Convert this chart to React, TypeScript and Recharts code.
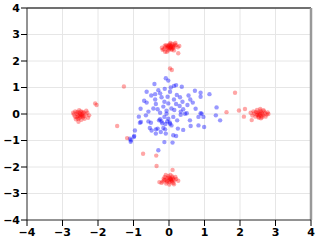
import {
    ScatterChart,
    Scatter,
    XAxis,
    YAxis,
    CartesianGrid,
    ReferenceLine
} from 'recharts';

const ticks = [-4, -3, -2, -1, 0, 1, 2, 3, 4];

// central blue cloud
const bluePoints: [number, number][] = [
    [-0.09, 1.35], [-0.02, 1.26], [-0.41, 1.13], [-0.3, 0.9], [-0.63, 0.84], [-0.39, 0.75],
    [-0.25, 0.78], [-0.04, 0.65], [-0.21, 0.63], [-0.39, 0.55], [-0.7, 0.5], [-0.63, 0.43],
    [-0.37, 0.38], [-0.13, 0.46], [-0.02, 0.4], [-0.44, 0.21], [-0.32, 0.18], [-0.16, 0.28],
    [-0.58, 0.09], [-0.07, 0.12], [0.2, 1.09], [0.14, 1.06], [0.36, 1.03], [0.03, 0.84],
    [0.73, 0.88], [0.89, 0.8], [1.14, 0.75], [0.89, 0.65], [0.22, 0.72], [0.31, 0.63],
    [0.14, 0.55], [0.38, 0.46], [0.67, 0.43], [0.2, 0.38], [0.52, 0.34], [0.07, 0.21],
    [0.4, 0.18], [0.33, 0.09], [0.5, 0.03], [0.89, 0.03], [1.34, 0.25], [-1.1, -0.93],
    [-1.07, -0.99], [-0.98, -0.83], [-0.96, -0.62], [-0.82, -0.33], [-0.79, -0.3], [-0.58, -0.28],
    [-0.51, -0.33], [-0.54, -0.53], [-0.49, -0.62], [-0.37, -0.74], [-0.28, -0.24], [-0.21, -0.28],
    [-0.13, -0.11], [-0.07, 0.01], [-0.02, -0.18], [-0.16, -0.53], [-0.11, -0.58], [-0.23, -0.68],
    [-0.09, -0.74], [-0.13, -1.06], [-0.3, -1.37], [0.12, -0.11], [0.33, -0.03], [0.45, 0.01],
    [0.23, -0.24], [0.59, -0.24], [0.83, -0.11], [0.92, 0.01], [0.97, -0.11], [1.32, -0.05],
    [1.44, -0.24], [0.61, -0.45], [0.83, -0.43], [0.99, -0.49], [0.07, -0.43], [0.12, -0.8],
    [0.2, -0.83], [0.1, -1.08], [-0.99, -0.87], [-1.08, -1.05], [-0.25, -0.2], [-0.19, -0.35],
    [-0.1, -0.38], [-0.05, -0.28], [0.02, -0.32], [-0.37, -0.58], [-0.32, -0.55], [0.03, -0.37],
    [-0.12, 0.95], [0.05, 1.0], [-0.5, 0.7], [0.55, 0.7], [0.6, 0.55], [-0.8, 0.2],
    [-0.85, -0.1], [0.75, 0.2], [0.25, -0.55], [0.4, -0.6], [-0.65, -0.05], [0.3, 0.3],
    [-0.25, 0.05], [0.15, 0.15]
];

// four red clusters plus strays
const redTop: [number, number][] = [
    [0.0, 2.55], [0.05, 2.5], [-0.05, 2.48], [0.1, 2.58], [-0.1, 2.52], [0.02, 2.62], [0.08, 2.45],
    [-0.02, 2.4], [0.15, 2.55], [-0.15, 2.45], [0.04, 2.68], [-0.08, 2.6], [0.12, 2.48], [0.2, 2.6],
    [-0.18, 2.42], [0.06, 2.53], [-0.04, 2.57], [0.01, 2.46], [0.09, 2.64], [-0.12, 2.58], [0.25, 2.52],
    [-0.06, 2.35], [0.14, 2.4], [0.03, 2.5], [0.29, 2.57], [0.26, 2.29], [-0.11, 2.35], [0.18, 2.68],
    [-0.2, 2.5], [0.07, 2.42], [0.0, 2.6], [0.11, 2.53], [-0.03, 2.52], [0.05, 2.58], [0.16, 2.62]
];
const redLeft: [number, number][] = [
    [-2.5, 0.0], [-2.45, -0.05], [-2.55, -0.08], [-2.4, 0.05], [-2.6, 0.02], [-2.52, -0.15], [-2.48, 0.1],
    [-2.35, -0.02], [-2.65, -0.1], [-2.42, -0.12], [-2.58, 0.08], [-2.3, 0.05], [-2.68, -0.02], [-2.53, 0.14],
    [-2.47, -0.22], [-2.38, -0.18], [-2.62, -0.2], [-2.25, -0.05], [-2.55, -0.29], [-2.44, 0.02], [-2.5, -0.1],
    [-2.57, -0.02], [-2.33, 0.12], [-2.7, 0.05], [-2.46, -0.08], [-2.52, 0.05], [-2.4, -0.08], [-2.6, -0.12],
    [-2.28, -0.14], [-2.64, 0.1], [-2.49, -0.03], [-2.43, 0.08], [-2.56, -0.18]
];
const redRight: [number, number][] = [
    [2.55, 0.0], [2.6, 0.05], [2.5, -0.03], [2.65, -0.05], [2.45, 0.08], [2.58, 0.12], [2.52, -0.1],
    [2.7, 0.03], [2.4, 0.02], [2.62, -0.12], [2.48, 0.15], [2.75, -0.02], [2.35, -0.06], [2.57, 0.19],
    [2.53, -0.14], [2.68, 0.1], [2.8, 0.0], [2.44, -0.1], [2.3, 0.05], [2.63, 0.0], [2.56, 0.06],
    [2.5, 0.05], [2.6, -0.07], [2.72, -0.1], [2.47, -0.02], [2.66, 0.14], [2.54, -0.05], [2.38, 0.1],
    [2.78, 0.06], [2.59, -0.16], [2.33, -0.23]
];
const redBottom: [number, number][] = [
    [0.0, -2.5], [0.05, -2.45], [-0.05, -2.52], [0.1, -2.4], [-0.1, -2.48], [0.02, -2.58], [0.08, -2.55],
    [-0.02, -2.35], [0.15, -2.5], [-0.15, -2.44], [0.04, -2.3], [-0.08, -2.62], [0.12, -2.6], [0.2, -2.45],
    [-0.18, -2.55], [0.06, -2.48], [-0.04, -2.42], [0.01, -2.66], [0.09, -2.36], [-0.12, -2.38], [0.26, -2.52],
    [-0.21, -2.6], [0.14, -2.65], [0.03, -2.45], [-0.06, -2.56], [0.18, -2.38], [-0.09, -2.3], [0.07, -2.52],
    [0.0, -2.4], [-0.14, -2.5], [0.11, -2.46], [-0.27, -2.57]
];
const redStray: [number, number][] = [
    [-1.27, 1.04], [-2.08, 0.4], [-2.04, 0.34], [-1.46, -0.45], [-1.18, -0.91], [-0.73, -1.5],
    [-0.36, -1.57], [-0.35, -1.96], [0.03, 1.72], [0.08, 1.66], [1.86, 0.8], [1.62, 0.07],
    [1.97, 0.13], [2.14, 0.19], [2.11, -0.1], [0.1, -2.11]
];

const toRows = (pts: [number, number][]) => pts.map(([x, y]) => ({ x, y }));
const blueData = toRows(bluePoints);
const redData = toRows([...redTop, ...redLeft, ...redRight, ...redBottom, ...redStray]);

const fmt = (v: number) => (v < 0 ? '\u2212' + Math.abs(v) : String(v));
const tickStyle = { fontSize: 11, fontWeight: 'bold', fill: '#000', fontFamily: 'DejaVu Sans' };

const dot = (color: string, opacity: number) => (props: any) => (
    <circle cx={props.cx} cy={props.cy} r={2.2} fill={color} fillOpacity={opacity} />
);

export default function App() {
    return (
        <div style={{ position: 'absolute', left: 0, top: 0 }}>
            <ScatterChart width={319} height={242} margin={{ top: 8, right: 8, left: 0, bottom: 0 }}>
                <CartesianGrid stroke="#e6e6e6" />
                <XAxis
                    type="number"
                    dataKey="x"
                    domain={[-4, 4]}
                    ticks={ticks}
                    tickFormatter={fmt}
                    tick={tickStyle}
                    tickSize={6}
                    tickMargin={2}
                    height={22}
                    stroke="#333"
                    tickLine={{ stroke: '#000' }}
                    allowDataOverflow
                />
                <YAxis
                    type="number"
                    dataKey="y"
                    domain={[-4, 4]}
                    ticks={ticks}
                    tickFormatter={fmt}
                    tick={tickStyle}
                    tickSize={6}
                    tickMargin={1}
                    width={27}
                    stroke="#333"
                    tickLine={{ stroke: '#000' }}
                    allowDataOverflow
                />
                <ReferenceLine y={4} stroke="#444" strokeWidth={1.5} />
                <ReferenceLine x={4} stroke="#999" strokeWidth={2.5} />
                <Scatter data={blueData} shape={dot('#0000ff', 0.4)} isAnimationActive={false} />
                <Scatter data={redData} shape={dot('#ff0000', 0.35)} isAnimationActive={false} />
            </ScatterChart>
        </div>
    );
}
